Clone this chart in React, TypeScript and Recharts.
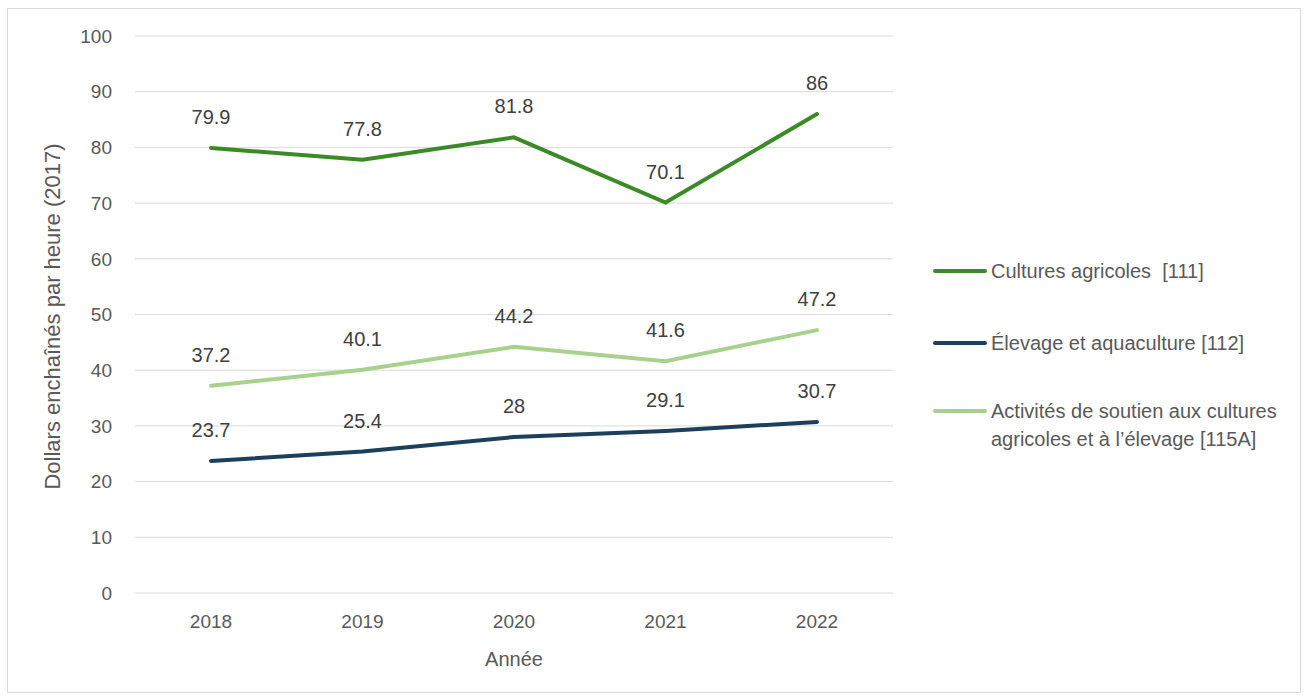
import { LineChart, Line, XAxis, YAxis, CartesianGrid, LabelList } from 'recharts'

const years = ['2018', '2019', '2020', '2021', '2022']
const cultures = [79.9, 77.8, 81.8, 70.1, 86]
const elevage = [23.7, 25.4, 28, 29.1, 30.7]
const soutien = [37.2, 40.1, 44.2, 41.6, 47.2]
const yTicks = [0, 10, 20, 30, 40, 50, 60, 70, 80, 90, 100]

const SERIES = [
    { key: 'cultures', name: 'Cultures agricoles  [111]', color: '#3b8a27' },
    { key: 'elevage', name: 'Élevage et aquaculture [112]', color: '#1b3f5c' },
    { key: 'soutien', name: 'Activités de soutien aux cultures agricoles et à l\u2019élevage [115A]', color: '#a9d18e' },
]

const data = years.map((year, i) => ({
    year,
    cultures: cultures[i],
    elevage: elevage[i],
    soutien: soutien[i],
}))

const FONT = '"Liberation Sans", Arial, sans-serif'
const TEXT = '#595959'

function LegendBox() {
    return (
        <div style={{ position: 'absolute', left: 925, top: 248, fontFamily: FONT, fontSize: 20, color: TEXT, width: 366 }}>
            {SERIES.map((s, i) => (
                <div key={s.key} style={{ display: 'flex', alignItems: 'flex-start', marginBottom: i === 0 ? 44 : 40 }}>
                    <div style={{ width: 54, height: 4, background: s.color, borderRadius: 2, marginTop: 12, flexShrink: 0 }} />
                    <div style={{ lineHeight: '28px', width: 308, paddingLeft: 4, whiteSpace: 'pre-wrap' }}>{s.name}</div>
                </div>
            ))}
        </div>
    )
}

export default function App() {
    return (
        <div style={{ position: 'absolute', left: 7, top: 8, width: 1294, height: 685, boxSizing: 'border-box', border: '1px solid #d9d9d9', background: '#fff' }}>
            <LineChart width={1292} height={683} data={data} margin={{ top: 27, right: 407, bottom: 39, left: 0 }}>
                <CartesianGrid stroke="#d9d9d9" vertical={false} />
                <XAxis
                    dataKey="year"
                    padding={{ left: 76, right: 76 }}
                    axisLine={false}
                    tickLine={false}
                    tickMargin={16}
                    height={60}
                    tick={{ fill: TEXT, fontSize: 19, fontFamily: FONT }}
                    label={({ viewBox }: any) => (
                        <text x={viewBox.x + viewBox.width / 2} y={viewBox.y + 73} textAnchor="middle" fill={TEXT} fontSize={20} fontFamily={FONT}>
                            Année
                        </text>
                    )}
                />
                <YAxis
                    domain={[0, 100]}
                    ticks={yTicks}
                    width={127}
                    axisLine={false}
                    tickLine={false}
                    tickMargin={17}
                    tick={{ fill: TEXT, fontSize: 19, fontFamily: FONT }}
                    label={({ viewBox }: any) => {
                        const cx = 44
                        const cy = viewBox.y + viewBox.height / 2 + 2
                        return (
                            <text x={cx} y={cy} transform={`rotate(-90 ${cx} ${cy})`} textAnchor="middle" dominantBaseline="central" fill={TEXT} fontSize={22} fontFamily={FONT}>
                                Dollars enchaînés par heure (2017)
                            </text>
                        )
                    }}
                />
                {SERIES.map((s) => (
                    <Line
                        key={s.key}
                        dataKey={s.key}
                        name={s.name}
                        stroke={s.color}
                        strokeWidth={4}
                        strokeLinecap="round"
                        dot={false}
                        activeDot={false}
                        isAnimationActive={false}
                    >
                        <LabelList dataKey={s.key} position="top" offset={24} fill="#404040" fontSize={20} fontFamily={FONT} />
                    </Line>
                ))}
            </LineChart>
            <LegendBox />
        </div>
    )
}
